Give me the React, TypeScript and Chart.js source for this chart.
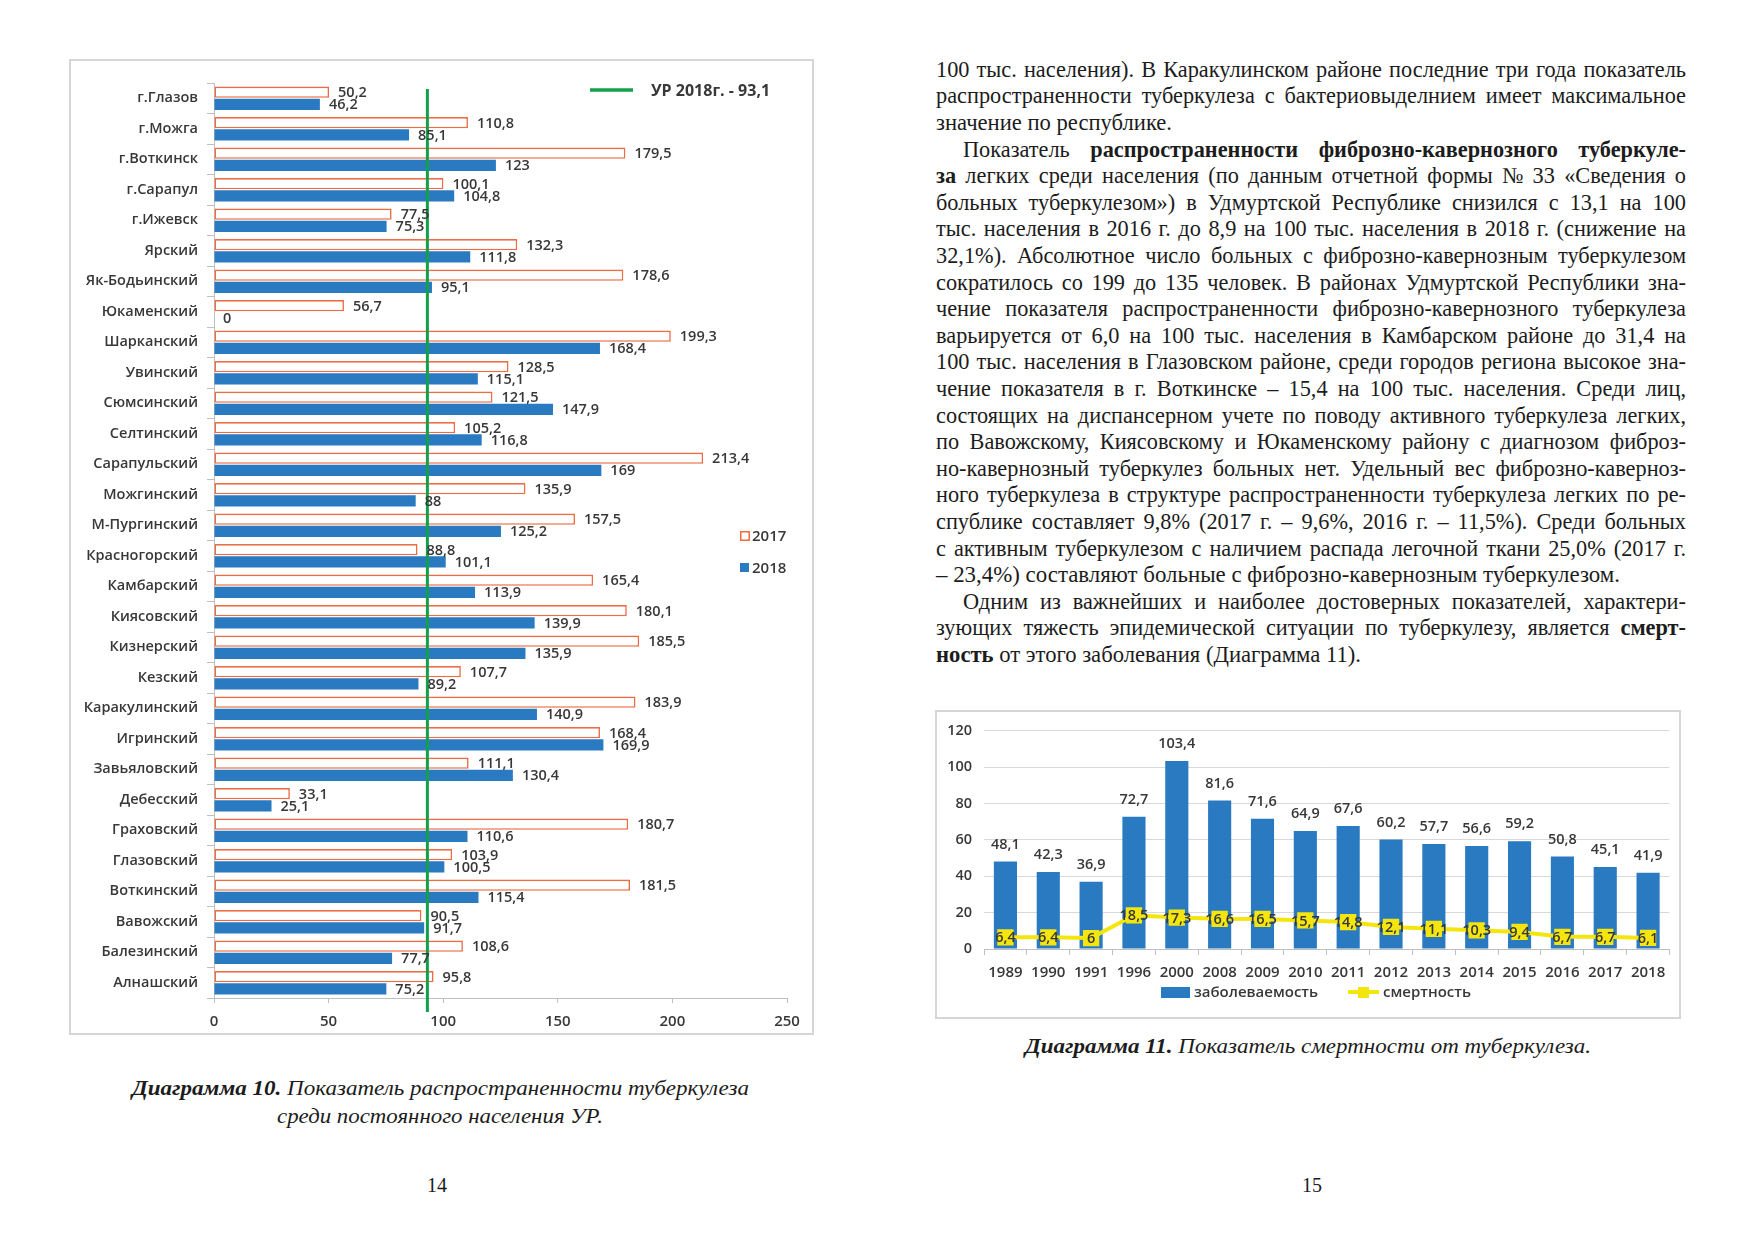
import React, { useEffect, useLayoutEffect, useRef } from 'react';
import { Chart, registerables } from 'chart.js';

Chart.register(...registerables);

// ---------- Diagram 10 data ----------
const districts = [
  'г.Глазов', 'г.Можга', 'г.Воткинск', 'г.Сарапул', 'г.Ижевск', 'Ярский', 'Як-Бодьинский',
  'Юкаменский', 'Шарканский', 'Увинский', 'Сюмсинский', 'Селтинский', 'Сарапульский',
  'Можгинский', 'М-Пургинский', 'Красногорский', 'Камбарский', 'Киясовский', 'Кизнерский',
  'Кезский', 'Каракулинский', 'Игринский', 'Завьяловский', 'Дебесский', 'Граховский',
  'Глазовский', 'Воткинский', 'Вавожский', 'Балезинский', 'Алнашский',
];
const prevalence2017 = [
  50.2, 110.8, 179.5, 100.1, 77.5, 132.3, 178.6, 56.7, 199.3, 128.5, 121.5, 105.2, 213.4,
  135.9, 157.5, 88.8, 165.4, 180.1, 185.5, 107.7, 183.9, 168.4, 111.1, 33.1, 180.7, 103.9,
  181.5, 90.5, 108.6, 95.8,
];
const prevalence2018 = [
  46.2, 85.1, 123, 104.8, 75.3, 111.8, 95.1, 0, 168.4, 115.1, 147.9, 116.8, 169, 88, 125.2,
  101.1, 113.9, 139.9, 135.9, 89.2, 140.9, 169.9, 130.4, 25.1, 110.6, 100.5, 115.4, 91.7,
  77.7, 75.2,
];
const seriesLabels10 = ['2017', '2018'];
const republicLevel2018 = 93.1;
const republicLabel = 'УР 2018г. - 93,1';
const prevalenceAxis = { min: 0, max: 250, step: 50 };

// ---------- Diagram 11 data ----------
const years = ['1989', '1990', '1991', '1996', '2000', '2008', '2009', '2010', '2011', '2012',
  '2013', '2014', '2015', '2016', '2017', '2018'];
const incidence = [48.1, 42.3, 36.9, 72.7, 103.4, 81.6, 71.6, 64.9, 67.6, 60.2, 57.7, 56.6,
  59.2, 50.8, 45.1, 41.9];
const mortality = [6.4, 6.4, 6, 18.5, 17.3, 16.6, 16.5, 15.7, 14.8, 12.1, 11.1, 10.3, 9.4,
  6.7, 6.7, 6.1];
const incidenceLabel = 'заболеваемость';
const mortalityLabel = 'смертность';
const rateAxis = { min: 0, max: 120, step: 20 };

// ---------- page text ----------
type Seg = [string, boolean?];
type BodyLine = { segs: Seg[]; indent?: boolean; endWidth?: number };
const bodyLines: BodyLine[] = [
  { segs: [['100 тыс. населения). В Каракулинском районе последние три года показатель']] },
  { segs: [['распространенности туберкулеза с бактериовыделнием имеет максимальное']] },
  { segs: [['значение по республике.']], endWidth: 236 },
  { segs: [['Показатель '], ['распространенности фиброзно-кавернозного туберкуле-', true]], indent: true },
  { segs: [['за', true], [' легких среди населения (по данным отчетной формы № 33 «Сведения о']] },
  { segs: [['больных туберкулезом») в Удмуртской Республике снизился с 13,1 на 100']] },
  { segs: [['тыс. населения в 2016 г. до 8,9 на 100 тыс. населения в 2018 г. (снижение на']] },
  { segs: [['32,1%). Абсолютное число больных с фиброзно-кавернозным туберкулезом']] },
  { segs: [['сократилось со 199 до 135 человек. В районах Удмуртской Республики зна-']] },
  { segs: [['чение показателя распространенности фиброзно-кавернозного туберкулеза']] },
  { segs: [['варьируется от 6,0 на 100 тыс. населения в Камбарском районе до 31,4 на']] },
  { segs: [['100 тыс. населения в Глазовском районе, среди городов региона высокое зна-']] },
  { segs: [['чение показателя в г. Воткинске – 15,4 на 100 тыс. населения. Среди лиц,']] },
  { segs: [['состоящих на диспансерном учете по поводу активного туберкулеза легких,']] },
  { segs: [['по Вавожскому, Киясовскому и Юкаменскому району с диагнозом фиброз-']] },
  { segs: [['но-кавернозный туберкулез больных нет. Удельный вес фиброзно-каверноз-']] },
  { segs: [['ного туберкулеза в структуре распространенности туберкулеза легких по ре-']] },
  { segs: [['спублике составляет 9,8% (2017 г. – 9,6%, 2016 г. – 11,5%). Среди больных']] },
  { segs: [['с активным туберкулезом с наличием распада легочной ткани 25,0% (2017 г.']] },
  { segs: [['– 23,4%) составляют больные с фиброзно-кавернозным туберкулезом.']], endWidth: 684 },
  { segs: [['Одним из важнейших и наиболее достоверных показателей, характери-']], indent: true },
  { segs: [['зующих тяжесть эпидемической ситуации по туберкулезу, является '], ['смерт-', true]] },
  { segs: [['ность', true], [' от этого заболевания (Диаграмма 11).']], endWidth: 425 },
];
const caption10a: Seg[] = [['Диаграмма 10.', true], [' Показатель распространенности туберкулеза']];
const caption10b: Seg[] = [['среди постоянного населения УР.']];
const caption11: Seg[] = [['Диаграмма 11.', true], [' Показатель смертности от туберкулеза.']];
const pageNumbers = ['14', '15'];

const fmt = (v: number) => String(v).replace('.', ',');
const CHART_FONT = "'Open Sans', 'Noto Sans', sans-serif";
const TXT = '#383838';
const BLUE = '#2A7AC2';
const ORANGE = '#EC6C44';
const GREEN = '#14A04A';
const YELLOW = '#F5E50F';
const AXIS = '#bfbfbf';

function TextLine(props: {
  left: number; top: number; width: number; height: number; size: number;
  segs: Seg[]; mode: 'justify' | 'fit'; italic?: boolean; color?: string;
}) {
  const ref = useRef<HTMLSpanElement>(null);
  useLayoutEffect(() => {
    const el = ref.current;
    if (!el) return;
    el.style.transform = 'none';
    el.style.wordSpacing = '0px';
    const w = el.getBoundingClientRect().width;
    const n = ((el.textContent || '').match(/ /g) || []).length;
    let s = 1;
    let ws = 0;
    if (props.mode === 'justify') {
      s = Math.min(0.97, props.width / w);
      ws = n ? (props.width / s - w) / n : 0;
    } else {
      s = props.width / w;
    }
    el.style.wordSpacing = ws + 'px';
    el.style.transform = `scaleX(${s})`;
  }, []);
  return (
    <div style={{
      position: 'absolute', left: props.left, top: props.top, width: props.width,
      height: props.height, lineHeight: props.height + 'px', whiteSpace: 'nowrap',
      color: props.color || '#1c1c1c',
    }}>
      <span ref={ref} style={{
        display: 'inline-block', transformOrigin: 'left center', fontSize: props.size,
        fontStyle: props.italic ? 'italic' : 'normal',
      }}>
        {props.segs.map(([t, b], i) => (
          <span key={i} style={{ fontWeight: b ? 'bold' : 'normal' }}>{t}</span>
        ))}
      </span>
    </div>
  );
}

// frame / canvas geometry (page pixels)
const F10 = { left: 69, top: 59, width: 745, height: 976 };
const F11 = { left: 935, top: 710, width: 746, height: 309 };

function PrevalenceChart() {
  const ref = useRef<HTMLCanvasElement>(null);
  useEffect(() => {
    const refLine = {
      id: 'refLine',
      afterDatasetsDraw(chart: any) {
        const { ctx, chartArea } = chart;
        const x = chart.scales.x.getPixelForValue(republicLevel2018);
        ctx.save();
        ctx.strokeStyle = GREEN;
        ctx.lineWidth = 3;
        ctx.beginPath();
        ctx.moveTo(x, chartArea.top + 6);
        ctx.lineTo(x, chartArea.bottom + 14);
        ctx.stroke();
        ctx.restore();
      },
    };
    const values = {
      id: 'values',
      afterDatasetsDraw(chart: any) {
        const { ctx } = chart;
        ctx.save();
        ctx.font = `600 14.5px ${CHART_FONT}`;
        ctx.fillStyle = TXT;
        ctx.textAlign = 'left';
        ctx.textBaseline = 'middle';
        chart.data.datasets.forEach((ds: any, di: number) => {
          chart.getDatasetMeta(di).data.forEach((el: any, i: number) => {
            ctx.fillText(fmt(ds.data[i]), el.x + 9, el.y + 1);
          });
        });
        ctx.restore();
      },
    };
    const legend = {
      id: 'legend10',
      afterDraw(chart: any) {
        const { ctx } = chart;
        ctx.save();
        ctx.strokeStyle = GREEN;
        ctx.lineWidth = 3.5;
        ctx.beginPath();
        ctx.moveTo(521, 31);
        ctx.lineTo(564, 31);
        ctx.stroke();
        ctx.font = `bold 16px ${CHART_FONT}`;
        ctx.fillStyle = TXT;
        ctx.textBaseline = 'middle';
        ctx.fillText(republicLabel, 582, 32);
        ctx.font = `600 15px ${CHART_FONT}`;
        ctx.strokeStyle = ORANGE;
        ctx.lineWidth = 1.5;
        ctx.strokeRect(671.75, 472.75, 8.5, 8.5);
        ctx.fillText(seriesLabels10[0], 683, 478);
        ctx.fillStyle = BLUE;
        ctx.fillRect(671, 504, 9, 9);
        ctx.fillStyle = TXT;
        ctx.fillText(seriesLabels10[1], 683, 510);
        ctx.restore();
      },
    };
    const chart = new Chart(ref.current as HTMLCanvasElement, {
      type: 'bar',
      data: {
        labels: districts,
        datasets: [
          {
            label: seriesLabels10[0], data: prevalence2017, backgroundColor: '#ffffff',
            borderColor: ORANGE, borderWidth: 1.6, borderSkipped: false,
            categoryPercentage: 0.8, barPercentage: 0.92,
          } as any,
          {
            label: seriesLabels10[1], data: prevalence2018, backgroundColor: BLUE, borderWidth: 0,
            categoryPercentage: 0.8, barPercentage: 0.92,
          } as any,
        ],
      },
      options: {
        indexAxis: 'y',
        animation: false,
        responsive: false,
        maintainAspectRatio: false,
        layout: { padding: { left: 0, right: 27, top: 24, bottom: 0 } },
        plugins: { legend: { display: false }, tooltip: { enabled: false } },
        scales: {
          x: {
            min: prevalenceAxis.min, max: prevalenceAxis.max,
            ticks: { stepSize: prevalenceAxis.step, color: TXT, padding: 10,
              font: { family: CHART_FONT, size: 15, weight: '600' } as any },
            grid: { drawOnChartArea: false, tickLength: 5, color: AXIS },
            border: { color: AXIS },
            afterFit: (s: any) => { s.height = 37; },
          } as any,
          y: {
            ticks: { autoSkip: false, color: TXT, padding: 9,
              font: { family: CHART_FONT, size: 14.5, weight: '600' } as any },
            grid: { drawOnChartArea: false, offset: true, tickLength: 7, color: AXIS },
            border: { color: AXIS },
            afterFit: (s: any) => { s.width = 145; },
          } as any,
        },
      },
      plugins: [refLine, values, legend],
    });
    return () => chart.destroy();
  }, []);
  return (
    <canvas ref={ref} width={F10.width} height={F10.height}
      style={{ position: 'absolute', left: F10.left, top: F10.top, width: F10.width, height: F10.height }} />
  );
}

function MortalityChart() {
  const ref = useRef<HTMLCanvasElement>(null);
  useEffect(() => {
    const values = {
      id: 'values11',
      afterDatasetsDraw(chart: any) {
        const { ctx } = chart;
        ctx.save();
        ctx.font = `600 14.5px ${CHART_FONT}`;
        ctx.fillStyle = TXT;
        ctx.textAlign = 'center';
        ctx.textBaseline = 'middle';
        chart.getDatasetMeta(1).data.forEach((el: any, i: number) => {
          ctx.fillText(fmt(incidence[i]), el.x, el.y - 17);
        });
        chart.getDatasetMeta(0).data.forEach((el: any, i: number) => {
          ctx.fillText(fmt(mortality[i]), el.x, el.y + 1);
        });
        ctx.restore();
      },
    };
    const legend = {
      id: 'legend11',
      afterDraw(chart: any) {
        const { ctx } = chart;
        ctx.save();
        ctx.fillStyle = BLUE;
        ctx.fillRect(226, 277, 29, 11);
        ctx.font = `600 15px ${CHART_FONT}`;
        ctx.fillStyle = TXT;
        ctx.textBaseline = 'middle';
        ctx.fillText(incidenceLabel, 259, 283);
        ctx.strokeStyle = YELLOW;
        ctx.lineWidth = 4;
        ctx.beginPath();
        ctx.moveTo(413, 282);
        ctx.lineTo(444, 282);
        ctx.stroke();
        ctx.fillStyle = YELLOW;
        ctx.fillRect(423, 277, 11, 11);
        ctx.fillStyle = TXT;
        ctx.fillText(mortalityLabel, 448, 283);
        ctx.restore();
      },
    };
    const chart = new Chart(ref.current as HTMLCanvasElement, {
      type: 'bar',
      data: {
        labels: years,
        datasets: [
          {
            type: 'line', label: mortalityLabel, data: mortality, borderColor: YELLOW,
            backgroundColor: YELLOW, borderWidth: 4, pointStyle: 'rect', pointRadius: 11.5,
            pointBorderWidth: 0, pointBackgroundColor: YELLOW, tension: 0, order: 0,
          } as any,
          {
            type: 'bar', label: incidenceLabel, data: incidence, backgroundColor: BLUE,
            categoryPercentage: 1, barPercentage: 0.54, order: 1,
          } as any,
        ],
      },
      options: {
        animation: false,
        responsive: false,
        maintainAspectRatio: false,
        layout: { padding: { left: 0, right: 10, top: 15, bottom: 0 } },
        plugins: { legend: { display: false }, tooltip: { enabled: false } },
        scales: {
          x: {
            ticks: { autoSkip: false, maxRotation: 0, color: TXT, padding: 9,
              font: { family: CHART_FONT, size: 15, weight: '600' } as any },
            grid: { drawOnChartArea: false, offset: true, tickLength: 6, color: AXIS },
            border: { color: AXIS },
            afterFit: (s: any) => { s.height = 70; },
          } as any,
          y: {
            min: rateAxis.min, max: rateAxis.max,
            ticks: { stepSize: rateAxis.step, color: TXT, padding: 12,
              font: { family: CHART_FONT, size: 14.5, weight: '600' } as any },
            grid: { color: '#d9d9d9', drawTicks: false },
            border: { display: false },
            afterFit: (s: any) => { s.width = 49; },
          } as any,
        },
      },
      plugins: [values, legend],
    });
    return () => chart.destroy();
  }, []);
  return (
    <canvas ref={ref} width={F11.width} height={F11.height}
      style={{ position: 'absolute', left: F11.left, top: F11.top, width: F11.width, height: F11.height }} />
  );
}

export default function App() {
  const LINE = 26.6;
  const bodyLeft = 936;
  const bodyWidth = 750;
  const frameStyle = (f: typeof F10) => ({
    position: 'absolute' as const, left: f.left, top: f.top, width: f.width, height: f.height,
    border: '2px solid #d6d6d6', boxSizing: 'border-box' as const,
  });
  return (
    <div style={{
      position: 'absolute', left: 0, top: 0, width: 1749, height: 1241, background: '#ffffff',
      overflow: 'hidden', fontFamily: "'Liberation Serif', 'DejaVu Serif', serif",
    }}>
      <div style={frameStyle(F10)} />
      <PrevalenceChart />
      <div style={frameStyle(F11)} />
      <MortalityChart />

      {bodyLines.map((ln, i) => {
        const indent = ln.indent ? 27 : 0;
        return (
          <TextLine key={i} left={bodyLeft + indent} top={70 + i * LINE - LINE / 2}
            width={ln.endWidth ? ln.endWidth - indent : bodyWidth - indent}
            height={LINE} size={23} segs={ln.segs} mode={ln.endWidth ? 'fit' : 'justify'} />
        );
      })}

      <TextLine left={132} top={1088 - 14} width={617} height={28} size={22} italic
        segs={caption10a} mode="fit" />
      <TextLine left={277} top={1116 - 14} width={326} height={28} size={22} italic
        segs={caption10b} mode="fit" />
      <TextLine left={1025} top={1046 - 14} width={566} height={28} size={22} italic
        segs={caption11} mode="fit" />

      <div style={{ position: 'absolute', left: 397, top: 1172, width: 80, textAlign: 'center',
        fontSize: 20, lineHeight: '26px', color: '#1c1c1c' }}>{pageNumbers[0]}</div>
      <div style={{ position: 'absolute', left: 1272, top: 1172, width: 80, textAlign: 'center',
        fontSize: 20, lineHeight: '26px', color: '#1c1c1c' }}>{pageNumbers[1]}</div>
    </div>
  );
}
